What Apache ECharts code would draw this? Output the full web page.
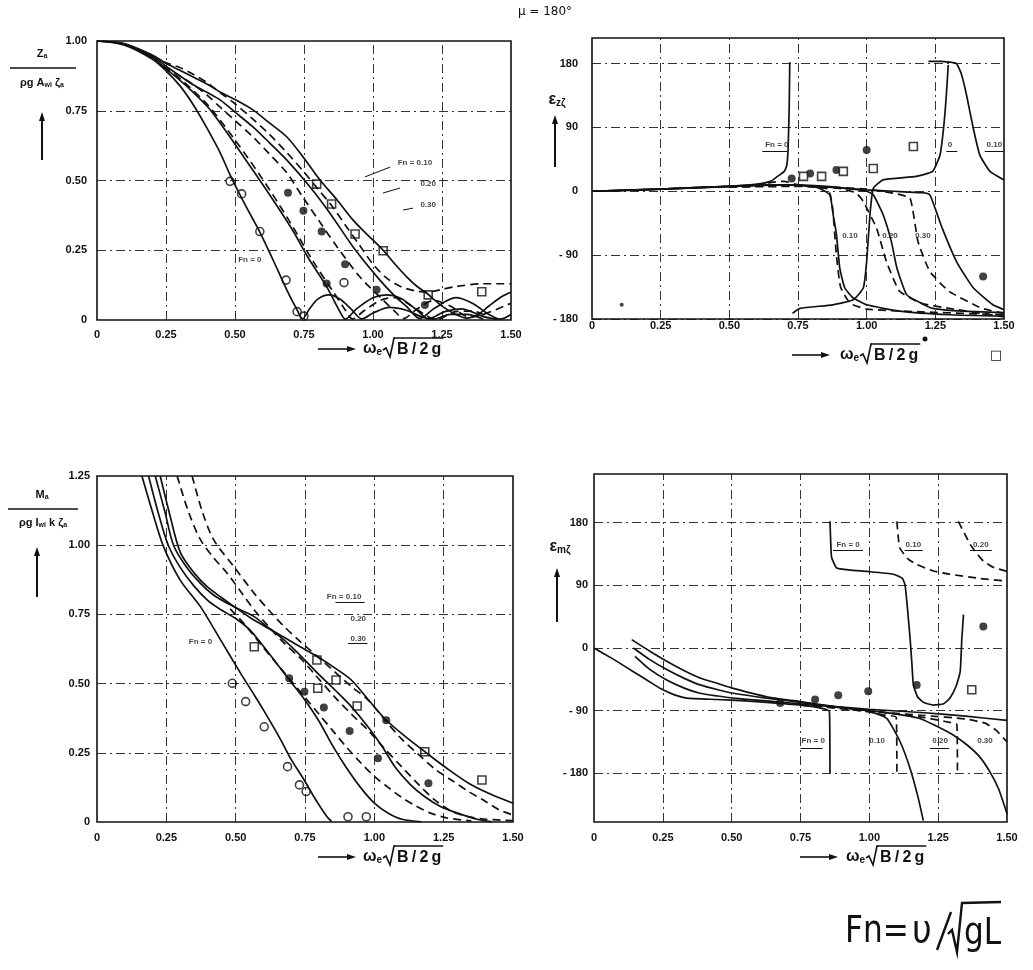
<!DOCTYPE html>
<html>
<head>
<meta charset="utf-8">
<script src="https://cdn.jsdelivr.net/npm/echarts@6/dist/echarts.min.js"></script>
<style>html,body{margin:0;background:#fff}#c{width:1033px;height:970px}</style>
</head>
<body>
<div id="c"></div>
<script>
// ---------- tick values ----------
const freqTicks = [0, 0.25, 0.5, 0.75, 1.0, 1.25, 1.5];
const heaveAmpTicks = [0, 0.25, 0.5, 0.75, 1.0];
const pitchAmpTicks = [0, 0.25, 0.5, 0.75, 1.0, 1.25];
const phaseTicks = [-180, -90, 0, 90, 180];

// ---------- heave amplitude Za/(rho g Awl zeta_a) ----------
const heaveFn0 = [[0,1],[0.1,0.985],[0.2,0.935],[0.25,0.893],[0.3,0.84],[0.35,0.77],[0.4,0.685],[0.446,0.6],[0.48,0.525],[0.52,0.445],[0.56,0.37],[0.59,0.315],[0.638,0.215],[0.688,0.107],[0.725,0.036],[0.745,0.004],[0.77,0.04],[0.8,0.075],[0.84,0.09],[0.88,0.075],[0.92,0.04],[0.96,0.004],[1.0,0.025],[1.06,0.045],[1.12,0.035],[1.18,0.01],[1.22,0.003],[1.28,0.02],[1.34,0.02],[1.4,0.003]];
const heaveFn10 = [[0,1],[0.1,0.987],[0.2,0.94],[0.25,0.9],[0.3,0.86],[0.35,0.815],[0.4,0.765],[0.446,0.706],[0.507,0.62],[0.58,0.515],[0.638,0.43],[0.71,0.32],[0.764,0.225],[0.833,0.118],[0.88,0.03],[0.9,0.003],[0.94,0.04],[1.0,0.08],[1.05,0.09],[1.1,0.078],[1.16,0.035],[1.2,0.004],[1.26,0.03],[1.32,0.04],[1.4,0.012],[1.45,0.002]];
const heaveFn20 = [[0,1],[0.1,0.99],[0.2,0.945],[0.25,0.91],[0.3,0.875],[0.35,0.842],[0.4,0.815],[0.446,0.789],[0.5,0.745],[0.565,0.692],[0.625,0.635],[0.688,0.573],[0.772,0.477],[0.844,0.383],[0.928,0.262],[1.025,0.143],[1.08,0.085],[1.123,0.047],[1.17,0.005],[1.22,0.04],[1.3,0.08],[1.36,0.06],[1.42,0.02],[1.46,0.003],[1.5,0.02]];
const heaveFn30 = [[0,1],[0.1,0.99],[0.2,0.95],[0.25,0.92],[0.3,0.895],[0.35,0.87],[0.4,0.845],[0.446,0.817],[0.5,0.79],[0.565,0.753],[0.62,0.71],[0.688,0.656],[0.75,0.58],[0.808,0.502],[0.87,0.43],[0.928,0.358],[0.98,0.305],[1.036,0.251],[1.08,0.2],[1.123,0.154],[1.16,0.12],[1.196,0.095],[1.225,0.07],[1.254,0.047],[1.3,0.02],[1.34,0.007],[1.38,0.02],[1.42,0.05],[1.46,0.08],[1.5,0.1]];
const heaveAltFn10 = [[0.24,0.905],[0.3,0.865],[0.4,0.772],[0.5,0.645],[0.6,0.505],[0.7,0.35],[0.78,0.215],[0.85,0.11],[0.9,0.035],[0.925,0.004],[0.97,0.035],[1.03,0.072],[1.08,0.08],[1.14,0.05],[1.2,0.012],[1.23,0.002],[1.3,0.03],[1.36,0.032],[1.42,0.01]];
const heaveAltFn20 = [[0.24,0.91],[0.3,0.875],[0.35,0.843],[0.4,0.805],[0.446,0.763],[0.5,0.715],[0.565,0.656],[0.62,0.6],[0.688,0.527],[0.746,0.44],[0.808,0.35],[0.87,0.262],[0.953,0.154],[1.036,0.072],[1.08,0.03],[1.11,0.005],[1.16,0.04],[1.22,0.07],[1.28,0.05],[1.35,0.01],[1.4,0.02],[1.5,0.06]];
const heaveAltFn30 = [[0.24,0.925],[0.3,0.905],[0.35,0.88],[0.4,0.85],[0.446,0.815],[0.5,0.775],[0.565,0.72],[0.62,0.67],[0.688,0.6],[0.75,0.53],[0.8,0.47],[0.85,0.41],[0.9,0.34],[0.95,0.27],[1.0,0.2],[1.05,0.15],[1.1,0.12],[1.15,0.105],[1.2,0.1],[1.25,0.11],[1.3,0.12],[1.4,0.13],[1.5,0.13]];
const heaveExpFn0 = [[0.482,0.497],[0.524,0.452],[0.59,0.317],[0.685,0.143],[0.725,0.03],[0.75,0.014],[0.895,0.134]];
const heaveExpFn20 = [[0.692,0.456],[0.748,0.392],[0.814,0.317],[0.832,0.131],[0.899,0.2],[1.013,0.108],[1.188,0.054]];
const heaveExpFn30 = [[0.796,0.487],[0.85,0.416],[0.935,0.308],[1.037,0.248],[1.2,0.09],[1.394,0.101]];
const heaveNotes = [[0.554,0.215,'Fn = 0'],[1.152,0.563,'Fn = 0.10'],[1.2,0.487,'0.20'],[1.2,0.412,'0.30']];
const heaveLeaders = [[1.062,0.548,0.971,0.513],[1.098,0.473,1.036,0.455],[1.145,0.401,1.109,0.394]];

// ---------- heave phase eps_z zeta (deg) ----------
const phaseZFn0 = [[0,0],[0.1,1],[0.25,3],[0.4,5],[0.5,7],[0.6,10],[0.65,14],[0.672,20],[0.7,28],[0.709,36],[0.714,60],[0.718,120],[0.72,182]];
const phaseZFn0Wrap = [[0.73,-172],[0.757,-165],[0.877,-160],[0.951,-153],[0.988,-136],[1.0,-99],[1.012,-33],[1.024,4],[1.06,16],[1.18,21],[1.24,28],[1.267,51],[1.28,89],[1.29,135],[1.297,178]];
const phaseZFn10 = [[0,0],[0.25,3],[0.5,7],[0.7,9],[0.8,7],[0.83,4],[0.866,-5],[0.878,-33],[0.89,-61],[0.902,-108],[0.92,-136],[0.95,-150],[1.0,-160],[1.12,-169],[1.3,-174],[1.5,-176]];
const phaseZFn10Wrap = [[1.225,183],[1.27,183],[1.3,182],[1.327,180],[1.345,165],[1.364,135],[1.388,89],[1.412,51],[1.449,28],[1.5,16]];
const phaseZFn20 = [[0,0],[0.25,3],[0.5,7],[0.7,9],[0.85,7],[0.95,3],[1.0,0],[1.024,-5],[1.06,-33],[1.09,-71],[1.11,-108],[1.146,-146],[1.2,-158],[1.24,-165],[1.35,-169],[1.5,-171]];
const phaseZFn30 = [[0,0],[0.25,3],[0.5,7],[0.7,9],[0.85,6],[1.0,2],[1.1,0],[1.2,-2],[1.23,-5],[1.275,-52],[1.327,-99],[1.388,-136],[1.46,-160],[1.5,-167]];
const phaseZAltFn10 = [[0.5,6],[0.6,8],[0.66,13],[0.7,14],[0.74,10],[0.8,6],[0.86,3],[0.875,-20],[0.89,-90],[0.905,-135],[0.94,-158],[1.0,-166],[1.2,-170],[1.5,-174]];
const phaseZAltFn20 = [[0.5,6],[0.7,8],[0.9,4],[0.96,-2],[0.987,-14],[1.036,-52],[1.072,-99],[1.12,-141],[1.2,-158],[1.3,-165],[1.5,-177]];
const phaseZAltFn30 = [[0.5,6],[0.8,7],[1.0,3],[1.1,-3],[1.158,-10],[1.187,-71],[1.23,-113],[1.3,-141],[1.42,-165],[1.5,-172]];
const phaseZExpDots = [[1.0,58],[0.794,25],[0.89,30],[0.727,18],[1.424,-120]];
const phaseZExpSquares = [[1.17,63],[1.024,32],[0.915,28],[0.836,21],[0.77,21]];
const phaseZSmallDots = [[0.108,-160]];
const phaseZNotes = [[0.673,65,'Fn = 0'],[1.303,65,'0'],[1.465,65,'0.10'],[0.939,-63,'0.10'],[1.085,-63,'0.20'],[1.205,-63,'0.30']];
const phaseZLeaders = [[0.62,56,0.71,56],[1.29,56,1.33,56],[1.43,56,1.5,56]];

// ---------- pitch amplitude Ma/(rho g Iwl k zeta_a) ----------
const pitchFn0 = [[0.162,1.25],[0.2,1.12],[0.24,0.995],[0.3,0.874],[0.373,0.778],[0.446,0.657],[0.518,0.537],[0.56,0.47],[0.6,0.405],[0.663,0.296],[0.7,0.226],[0.748,0.15],[0.78,0.095],[0.808,0.05],[0.83,0.018],[0.846,0.002]];
const pitchFn10 = [[0.186,1.25],[0.22,1.12],[0.257,1.0],[0.3,0.92],[0.35,0.852],[0.4,0.8],[0.45,0.765],[0.5,0.735],[0.55,0.695],[0.6,0.635],[0.65,0.57],[0.7,0.505],[0.75,0.44],[0.8,0.365],[0.85,0.275],[0.9,0.195],[0.95,0.125],[1.0,0.068],[1.05,0.032],[1.1,0.01],[1.17,0.001]];
const pitchFn20 = [[0.21,1.25],[0.245,1.12],[0.276,1.0],[0.32,0.925],[0.373,0.862],[0.42,0.82],[0.47,0.79],[0.52,0.765],[0.567,0.742],[0.62,0.7],[0.675,0.657],[0.74,0.595],[0.796,0.537],[0.86,0.475],[0.917,0.417],[0.977,0.344],[1.03,0.27],[1.074,0.2],[1.13,0.135],[1.182,0.091],[1.24,0.055],[1.303,0.031],[1.37,0.01],[1.424,0.001]];
const pitchFn30 = [[0.228,1.25],[0.26,1.12],[0.3,0.975],[0.35,0.9],[0.397,0.85],[0.45,0.81],[0.494,0.778],[0.55,0.74],[0.6,0.71],[0.651,0.681],[0.72,0.64],[0.796,0.597],[0.86,0.555],[0.917,0.513],[0.98,0.44],[1.037,0.374],[1.11,0.31],[1.182,0.254],[1.26,0.195],[1.34,0.14],[1.42,0.1],[1.5,0.068]];
const pitchAltFn10 = [[0.48,0.77],[0.518,0.73],[0.56,0.68],[0.6,0.63],[0.65,0.57],[0.7,0.51],[0.75,0.45],[0.8,0.39],[0.85,0.33],[0.9,0.27],[0.95,0.215],[1.0,0.165],[1.05,0.125],[1.1,0.088],[1.15,0.058],[1.2,0.033],[1.26,0.015],[1.35,0.004]];
const pitchAltFn20 = [[0.289,1.25],[0.33,1.12],[0.373,1.02],[0.42,0.955],[0.47,0.898],[0.52,0.83],[0.567,0.766],[0.62,0.705],[0.675,0.646],[0.735,0.59],[0.784,0.535],[0.856,0.453],[0.917,0.39],[0.977,0.332],[1.037,0.265],[1.098,0.2],[1.16,0.135],[1.219,0.079],[1.28,0.038],[1.34,0.019],[1.4,0.01],[1.5,0.005]];
const pitchAltFn30 = [[0.343,1.25],[0.38,1.12],[0.421,1.019],[0.494,0.922],[0.567,0.826],[0.62,0.765],[0.675,0.706],[0.735,0.65],[0.796,0.597],[0.86,0.54],[0.917,0.49],[0.977,0.441],[1.037,0.37],[1.098,0.3],[1.158,0.245],[1.22,0.19],[1.28,0.15],[1.34,0.11],[1.4,0.075],[1.448,0.045],[1.5,0.025]];
const pitchExpFn0 = [[0.488,0.501],[0.536,0.435],[0.603,0.344],[0.687,0.2],[0.73,0.134],[0.754,0.11],[0.905,0.019],[0.971,0.019]];
const pitchExpFn20 = [[0.693,0.519],[0.748,0.471],[0.818,0.414],[0.911,0.329],[1.013,0.23],[1.043,0.368],[1.195,0.14]];
const pitchExpFn30 = [[0.567,0.633],[0.793,0.585],[0.796,0.483],[0.862,0.513],[0.938,0.419],[1.182,0.254],[1.388,0.152]];
const pitchNotes = [[0.891,0.813,'Fn = 0.10'],[0.942,0.733,'0.20'],[0.942,0.661,'0.30'],[0.373,0.65,'Fn = 0']];
const pitchLeaders = [[0.86,0.795,0.965,0.795],[0.905,0.647,0.975,0.647]];

// ---------- pitch phase eps_m zeta (deg) ----------
const phaseMFn0 = [[0,0],[0.07,-16],[0.143,-34],[0.2,-48],[0.24,-58],[0.29,-67],[0.337,-72],[0.446,-74],[0.55,-76],[0.627,-78],[0.75,-82],[0.82,-86],[0.855,-91],[0.857,-180]];
const phaseMFn0Wrap = [[0.857,182],[0.86,150],[0.863,130],[0.882,115],[0.93,112],[0.99,110],[1.087,106],[1.12,100],[1.13,90],[1.14,50],[1.148,14],[1.155,-25],[1.16,-53],[1.175,-70],[1.196,-78],[1.233,-82],[1.27,-80],[1.293,-72],[1.315,-55],[1.33,-34],[1.336,14],[1.342,48]];
const phaseMFn10 = [[0.137,12],[0.2,-4],[0.264,-19],[0.33,-33],[0.385,-43],[0.45,-51],[0.506,-58],[0.627,-70],[0.748,-77],[0.87,-84],[0.95,-88],[0.99,-90],[1.063,-101],[1.111,-134],[1.148,-173],[1.178,-216],[1.196,-248]];
const phaseMFn20 = [[0.143,0],[0.2,-16],[0.264,-31],[0.33,-44],[0.385,-53],[0.45,-60],[0.506,-65],[0.627,-72],[0.75,-78],[0.9,-86],[1.0,-90],[1.1,-95],[1.18,-101],[1.232,-110],[1.3,-124],[1.354,-139],[1.4,-156],[1.438,-178],[1.47,-203],[1.5,-238]];
const phaseMFn30 = [[0.149,-12],[0.2,-30],[0.264,-46],[0.33,-58],[0.385,-65],[0.45,-69],[0.506,-72],[0.627,-76],[0.8,-82],[1.0,-88],[1.2,-93],[1.35,-98],[1.5,-104]];
const phaseMAltFn10 = [[0.75,-82],[0.9,-87],[1.0,-92],[1.05,-96],[1.098,-100],[1.1,-180]];
const phaseMAltFn10Wrap = [[1.1,182],[1.105,160],[1.11,144],[1.14,128],[1.172,120],[1.23,111],[1.293,106],[1.4,100],[1.5,96]];
const phaseMAltFn20 = [[0.8,-82],[1.0,-90],[1.2,-100],[1.28,-106],[1.318,-110],[1.32,-180]];
const phaseMAltFn20Wrap = [[1.323,182],[1.345,165],[1.366,149],[1.39,136],[1.414,125],[1.45,116],[1.5,110]];
const phaseMAltFn30 = [[0.8,-83],[1.0,-91],[1.2,-97],[1.35,-102],[1.42,-108],[1.46,-118],[1.5,-135]];
const phaseMExpDots = [[1.414,31],[1.172,-53],[0.996,-62],[0.887,-68],[0.803,-74],[0.676,-79]];
const phaseMExpSquares = [[1.372,-60]];
const phaseMNotes = [[0.923,148,'Fn = 0'],[1.16,148,'0.10'],[1.405,148,'0.20'],[0.796,-134,'Fn = 0'],[1.028,-134,'0.10'],[1.257,-134,'0.20'],[1.42,-134,'0.30']];
const phaseMLeaders = [[0.868,140,0.977,140],[1.128,140,1.194,140],[1.366,140,1.445,140],[0.75,-144,0.83,-144],[1.22,-144,1.29,-144]];

// ---------- drawing ----------
const INK = '#111';
const FONT = 'Liberation Sans';
const chart = echarts.init(document.getElementById('c'), null, {renderer: 'canvas'});

const boxes = [
  {left: 97, top: 41, width: 414, height: 279},
  {left: 592, top: 38, width: 412, height: 281},
  {left: 97, top: 476, width: 416, height: 346},
  {left: 594, top: 474, width: 413, height: 348}
];
const grid = boxes.map(b => Object.assign({show: true, borderColor: INK, borderWidth: 1.6,
  backgroundColor: 'transparent', containLabel: false, outerBoundsMode: 'none'}, b));

const labelStyle = {color: INK, fontFamily: FONT, fontWeight: 'bold', fontSize: 11};
const fmtFreq = v => v === 0 ? '0' : v.toFixed(2);
const fmtPhase = v => v < 0 ? '- ' + (-v) : String(v);

const xAxis = [0, 1, 2, 3].map(i => ({
  type: 'value', gridIndex: i, min: 0, max: 1.5, interval: 0.25,
  axisLine: {show: false}, axisTick: {show: false}, splitLine: {show: false},
  axisLabel: Object.assign({formatter: fmtFreq, margin: [9, 1, 10, 10][i]}, labelStyle)
}));
const yAxis = [
  {type: 'value', gridIndex: 0, min: 0, max: 1, interval: 0.25,
   axisLabel: Object.assign({formatter: fmtFreq, margin: 10}, labelStyle)},
  {type: 'value', gridIndex: 1, min: -180, max: 216, interval: 90,
   axisLabel: Object.assign({formatter: v => phaseTicks.includes(v) ? fmtPhase(v) : '', margin: 14, showMaxLabel: false}, labelStyle)},
  {type: 'value', gridIndex: 2, min: 0, max: 1.25, interval: 0.25,
   axisLabel: Object.assign({formatter: fmtFreq, margin: 7}, labelStyle)},
  {type: 'value', gridIndex: 3, min: -250, max: 250, interval: 10,
   axisLabel: Object.assign({formatter: v => phaseTicks.includes(v) ? fmtPhase(v) : '', margin: 6}, labelStyle)}
].map(a => Object.assign({axisLine: {show: false}, axisTick: {show: false}, splitLine: {show: false}}, a));

const series = [];

// dash-dot reference grid inside each panel
function gridLines(gi, xs, ys) {
  series.push({
    type: 'line', xAxisIndex: gi, yAxisIndex: gi, data: [], silent: true,
    markLine: {
      silent: true, symbol: 'none', animation: false, label: {show: false},
      lineStyle: {color: INK, width: 1, type: [9, 4, 2, 4], opacity: 0.85},
      data: xs.map(v => ({xAxis: v})).concat(ys.map(v => ({yAxis: v})))
    }
  });
}
gridLines(0, freqTicks.slice(1, -1), heaveAmpTicks.slice(1, -1));
gridLines(1, freqTicks.slice(1, -1), phaseTicks);
gridLines(2, freqTicks.slice(1, -1), pitchAmpTicks.slice(1, -1));
gridLines(3, freqTicks.slice(1, -1), phaseTicks);

function curve(gi, data, dashed, smooth) {
  series.push({
    type: 'line', xAxisIndex: gi, yAxisIndex: gi, data, showSymbol: false, silent: true,
    smooth: smooth === undefined ? 0.3 : smooth, clip: true, animation: false,
    lineStyle: {color: INK, width: 1.7, type: dashed ? [8, 5] : 'solid'}
  });
}
function points(gi, data, kind, size) {
  const filled = kind === 'dot';
  series.push({
    type: 'scatter', xAxisIndex: gi, yAxisIndex: gi, data, silent: true, animation: false,
    symbol: kind === 'square' ? 'rect' : 'circle', symbolSize: size || 8,
    itemStyle: {color: filled ? INK : '#fff', borderColor: INK, borderWidth: filled ? 0 : 1.6}
  });
}
function notes(gi, list) {
  series.push({
    type: 'scatter', xAxisIndex: gi, yAxisIndex: gi, symbolSize: 0, silent: true, animation: false,
    data: list.map(n => ({value: [n[0], n[1]], name: n[2]})),
    label: {show: true, position: 'inside', formatter: p => p.name, color: INK,
            fontFamily: FONT, fontWeight: 'bold', fontSize: 8}
  });
}
function leaders(gi, list) {
  series.push({
    type: 'lines', coordinateSystem: 'cartesian2d', xAxisIndex: gi, yAxisIndex: gi,
    silent: true, animation: false,
    lineStyle: {color: INK, width: 1, opacity: 1},
    data: list.map(s => ({coords: [[s[0], s[1]], [s[2], s[3]]]}))
  });
}

// heave amplitude
[heaveFn0, heaveFn10, heaveFn20, heaveFn30].forEach(d => curve(0, d, false));
[heaveAltFn10, heaveAltFn20, heaveAltFn30].forEach(d => curve(0, d, true));
points(0, heaveExpFn0, 'circle');
points(0, heaveExpFn20, 'dot');
points(0, heaveExpFn30, 'square');
notes(0, heaveNotes);
leaders(0, heaveLeaders);

// heave phase
[phaseZFn0, phaseZFn0Wrap, phaseZFn10, phaseZFn10Wrap, phaseZFn20, phaseZFn30].forEach(d => curve(1, d, false, 0.15));
[phaseZAltFn10, phaseZAltFn20, phaseZAltFn30].forEach(d => curve(1, d, true, 0.15));
points(1, phaseZExpDots, 'dot');
points(1, phaseZExpSquares, 'square');
points(1, phaseZSmallDots, 'dot', 4);
notes(1, phaseZNotes);
leaders(1, phaseZLeaders);

// pitch amplitude
[pitchFn0, pitchFn10, pitchFn20, pitchFn30].forEach(d => curve(2, d, false));
[pitchAltFn10, pitchAltFn20, pitchAltFn30].forEach(d => curve(2, d, true));
points(2, pitchExpFn0, 'circle');
points(2, pitchExpFn20, 'dot');
points(2, pitchExpFn30, 'square');
notes(2, pitchNotes);
leaders(2, pitchLeaders);

// pitch phase
[phaseMFn0, phaseMFn0Wrap, phaseMFn10, phaseMFn20, phaseMFn30].forEach(d => curve(3, d, false, 0.15));
[phaseMAltFn10, phaseMAltFn10Wrap, phaseMAltFn20, phaseMAltFn20Wrap, phaseMAltFn30].forEach(d => curve(3, d, true, 0.15));
points(3, phaseMExpDots, 'dot');
points(3, phaseMExpSquares, 'square');
notes(3, phaseMNotes);
leaders(3, phaseMLeaders);

// ---------- axis titles and captions ----------
const g = [];
const measureCtx = document.createElement('canvas').getContext('2d');
function textWidth(str, font) { measureCtx.font = font; return measureCtx.measureText(str).width; }

const rich = size => ({
  m: {fontFamily: FONT, fontWeight: 'bold', fontSize: size, fill: INK},
  s: {fontFamily: FONT, fontWeight: 'bold', fontSize: Math.round(size * 0.6), fill: INK, verticalAlign: 'bottom', lineHeight: size}
});
function text(x, y, str, size, align, extra) {
  g.push({type: 'text', x, y, silent: true,
    style: Object.assign({text: str, rich: rich(size), fill: INK, font: 'bold ' + size + 'px "' + FONT + '"',
      align: align || 'center', verticalAlign: 'middle'}, extra || {})});
}
function seg(x1, y1, x2, y2, w) {
  g.push({type: 'line', silent: true, shape: {x1, y1, x2, y2}, style: {stroke: INK, lineWidth: w || 1.5}});
}
function arrowUp(x, yTop, yBot) {
  seg(x, yTop + 6, x, yBot, 2);
  g.push({type: 'polygon', silent: true, shape: {points: [[x, yTop], [x - 3, yTop + 9], [x + 3, yTop + 9]]}, style: {fill: INK}});
}
function arrowRight(x1, x2, y) {
  seg(x1, y, x2 - 6, y, 1.6);
  g.push({type: 'polygon', silent: true, shape: {points: [[x2, y], [x2 - 9, y - 3], [x2 - 9, y + 3]]}, style: {fill: INK}});
}
// "omega_e sqrt(B/2g)" with a drawn radical and overbar
function freqTitle(xArrow, xText, y) {
  arrowRight(xArrow, xArrow + 38, y);
  text(xText, y, '{m|ω}{s|e}', 16, 'left');
  const xr = xText + 20;
  g.push({type: 'polyline', silent: true,
    shape: {points: [[xr, y + 1], [xr + 3, y - 1], [xr + 7, y + 8], [xr + 11, y - 11], [xr + 12, y - 11]]},
    style: {stroke: INK, lineWidth: 1.6, fill: null}});
  const body = 'B\u2009/\u20092\u2009g';
  const font = 'bold 16px "' + FONT + '"';
  text(xr + 14, y + 1, body, 16, 'left');
  seg(xr + 11, y - 11, xr + 16 + textWidth(body, font), y - 11, 1.5);
}

// top caption
text(545, 12, 'μ = 180°', 12, 'center', {font: '12px "DejaVu Sans"'});

// heave amplitude label
text(42, 54, '{m|Z}{s|a}', 11);
seg(10, 68, 76, 68, 1.6);
text(42, 83, '{m|ρg A}{s|wl}{m| ζ}{s|a}', 11);
arrowUp(42, 112, 160);
freqTitle(318, 363, 349);

// heave phase label
text(557, 100, '{m|ε}{s|zζ}', 16);
arrowUp(555, 115, 167);
freqTitle(792, 840, 355);
text(990, 356, '□', 13, 'left', {font: 'bold 13px "DejaVu Sans"'});
g.push({type: 'circle', silent: true, shape: {cx: 925, cy: 339, r: 2.5}, style: {fill: INK}});

// pitch amplitude label
text(42, 495, '{m|M}{s|a}', 11);
seg(8, 509, 78, 509, 1.6);
text(43, 523, '{m|ρg I}{s|wl}{m| k ζ}{s|a}', 11);
arrowUp(37, 547, 597);
freqTitle(318, 363, 857);

// pitch phase label
text(560, 547, '{m|ε}{s|mζ}', 16);
arrowUp(557, 568, 622);
freqTitle(800, 846, 857);

// Froude number definition  Fn = v / sqrt(gL)
const bigFont = '38px "DejaVu Sans"';
g.push({type: 'text', x: 845, y: 932, silent: true, scaleX: 0.82,
  style: {text: 'Fn=', font: bigFont, fill: INK, align: 'left', verticalAlign: 'middle'}});
g.push({type: 'text', x: 912, y: 932, silent: true, scaleX: 0.9,
  style: {text: 'υ', font: bigFont, fill: INK, align: 'left', verticalAlign: 'middle'}});
seg(937, 950, 951, 912, 2.4);
g.push({type: 'polyline', silent: true,
  shape: {points: [[948, 934], [952, 930], [957, 952], [962, 903], [1001, 902]]},
  style: {stroke: INK, lineWidth: 2.4, fill: null}});
g.push({type: 'text', x: 964, y: 934, silent: true, scaleX: 0.82,
  style: {text: 'gL', font: bigFont, fill: INK, align: 'left', verticalAlign: 'middle'}});

chart.setOption({
  animation: false,
  backgroundColor: '#fff',
  grid, xAxis, yAxis, series,
  graphic: g
});
</script>
</body>
</html>
